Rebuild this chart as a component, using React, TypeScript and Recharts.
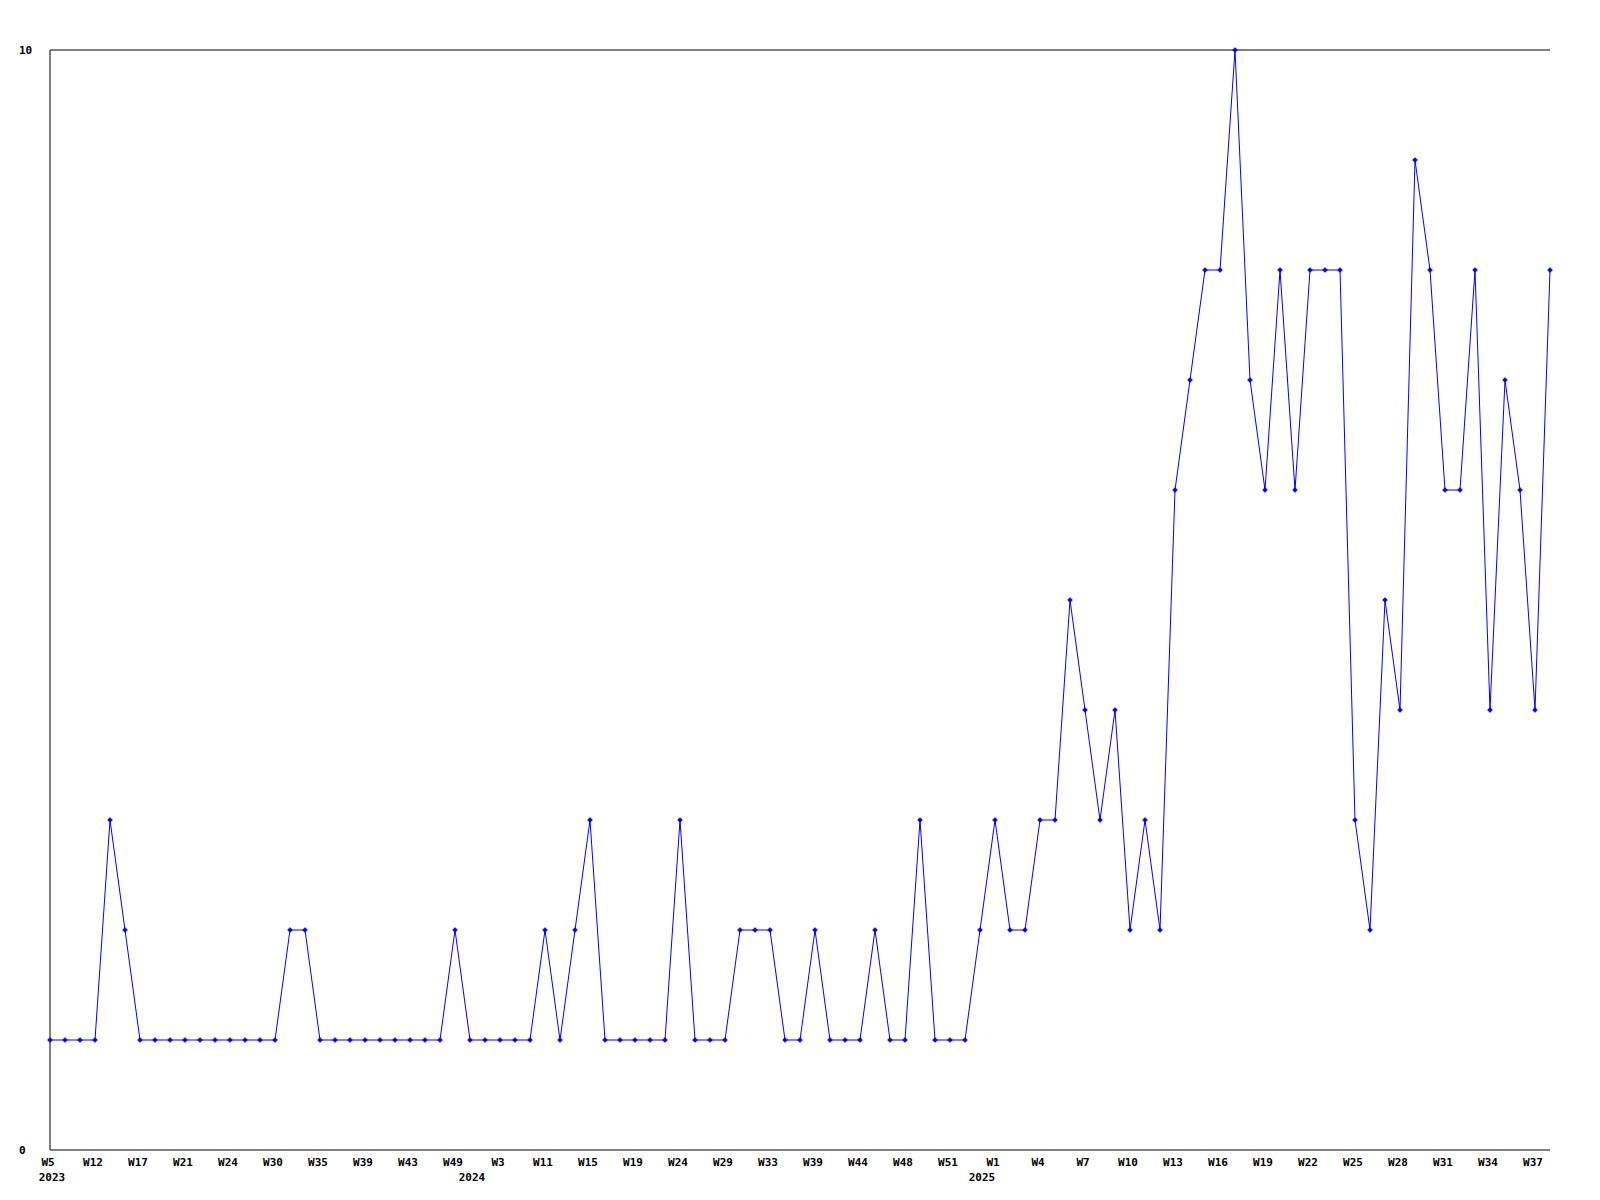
import { LineChart, Line, XAxis, YAxis, ReferenceLine } from 'recharts';

// weekly counts, one point per sample
const values = [
    1, 1, 1, 1, 3, 2, 1, 1, 1, 1,
    1, 1, 1, 1, 1, 1, 2, 2, 1, 1,
    1, 1, 1, 1, 1, 1, 1, 2, 1, 1,
    1, 1, 1, 2, 1, 2, 3, 1, 1, 1,
    1, 1, 3, 1, 1, 1, 2, 2, 2, 1,
    1, 2, 1, 1, 1, 2, 1, 1, 3, 1,
    1, 1, 2, 3, 2, 2, 3, 3, 5, 4,
    3, 4, 2, 3, 2, 6, 7, 8, 8, 10,
    7, 6, 8, 6, 8, 8, 8, 3, 2, 5,
    4, 9, 8, 6, 6, 8, 4, 7, 6, 4,
    8,
];

// a week label is shown under every third point
const weekLabels = [
    'W5', 'W12', 'W17', 'W21', 'W24', 'W30', 'W35', 'W39', 'W43', 'W49',
    'W3', 'W11', 'W15', 'W19', 'W24', 'W29', 'W33', 'W39', 'W44', 'W48',
    'W51', 'W1', 'W4', 'W7', 'W10', 'W13', 'W16', 'W19', 'W22', 'W25',
    'W28', 'W31', 'W34', 'W37',
];
const labelEvery = 3;

// year labels and the point index where each one starts
const years = ['2023', '2024', '2025'];
const yearStart = [0, 28, 62];

const yTicks = [0, 10];

const data = values.map((v, i) => ({ i, v }));

const FONT = '"DejaVu Sans Mono", "Liberation Mono", monospace';

const WeekTick = (props: any) => {
    const { x, y, payload } = props;
    const idx = payload.value as number;
    const week = idx % labelEvery === 0 ? weekLabels[idx / labelEvery] : null;
    const yi = yearStart.indexOf(idx);
    return (
        <g>
            {week && (
                <text x={x - 2} y={y + 16} textAnchor="middle" fontFamily={FONT} fontSize={11} fontWeight="bold" fill="#000">
                    {week}
                </text>
            )}
            {yi >= 0 && (
                <text x={x + 2} y={y + 31} textAnchor="middle" fontFamily={FONT} fontSize={11} fontWeight="bold" fill="#000">
                    {years[yi]}
                </text>
            )}
        </g>
    );
};

const ValueTick = (props: any) => {
    const { x, y, payload } = props;
    return (
        <text x={x - 31} y={y + 4} textAnchor="start" fontFamily={FONT} fontSize={11} fontWeight="bold" fill="#000">
            {payload.value}
        </text>
    );
};

const Marker = (props: any) => {
    const { cx, cy, index } = props;
    if (cx == null || cy == null) return <g key={index} />;
    return (
        <path
            key={index}
            d={`M${cx - 2.5},${cy} L${cx},${cy - 2.5} L${cx + 2.5},${cy} L${cx},${cy + 2.5} Z`}
            fill="#0000ff"
            stroke="#0000ff"
            strokeWidth={0.5}
        />
    );
};

export default function App() {
    return (
        <div style={{ position: 'absolute', left: 0, top: 0, width: 1600, height: 1200, background: '#fff' }}>
            <LineChart width={1600} height={1200} data={data} margin={{ top: 50, right: 50, bottom: 0, left: 0 }}>
                <XAxis
                    dataKey="i"
                    type="category"
                    interval={0}
                    height={50}
                    tickLine={false}
                    tickSize={0}
                    tickMargin={0}
                    axisLine={{ stroke: '#000', strokeWidth: 1 }}
                    tick={<WeekTick />}
                />
                <YAxis
                    domain={[0, 10]}
                    ticks={yTicks}
                    width={50}
                    tickLine={false}
                    tickSize={0}
                    tickMargin={0}
                    axisLine={{ stroke: '#000', strokeWidth: 1 }}
                    tick={<ValueTick />}
                />
                <ReferenceLine y={10} stroke="#000" strokeWidth={1} />
                <Line
                    type="linear"
                    dataKey="v"
                    stroke="#0000ff"
                    strokeWidth={1}
                    dot={<Marker />}
                    activeDot={false}
                    isAnimationActive={false}
                />
            </LineChart>
        </div>
    );
}
